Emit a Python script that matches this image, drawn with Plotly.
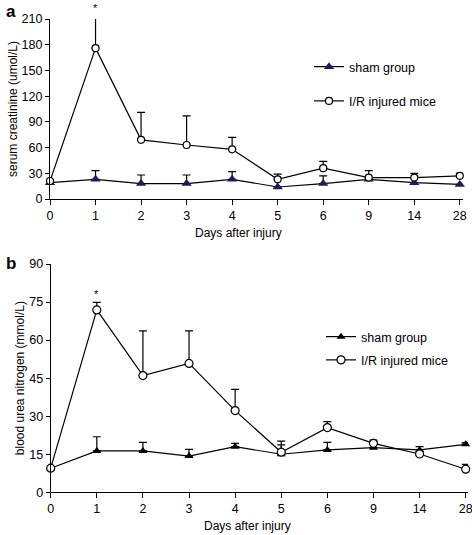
import plotly.graph_objects as go

days = ["0", "1", "2", "3", "4", "5", "6", "9", "14", "28"]

# Panel a: serum creatinine (umol/L)
cr_sham = [19, 23, 18, 18, 23, 14, 18, 23, 19, 17]
cr_sham_err = [0, 10, 10, 10, 9, 0, 9, 0, 0, 0]
cr_ir = [21, 176, 69, 63, 58, 23, 36, 25, 25, 27]
cr_ir_err = [0, 37, 32, 34, 14, 6, 8, 8, 5, 3]

# Panel b: blood urea nitrogen (mmol/L)
bun_sham = [9.5, 16.3, 16.3, 14.3, 18, 15, 16.7, 17.6, 16.7, 18.9]
bun_sham_err = [0, 5.6, 3.4, 2.6, 1.3, 3.7, 3.0, 0, 1.3, 0.7]
bun_ir = [9.5, 71.9, 46, 50.8, 32.2, 15.8, 25.5, 19.3, 15.1, 9.1]
bun_ir_err = [0, 3.0, 17.6, 12.8, 8.4, 4.4, 2.4, 1.3, 0, 1.9]

CR_MAX, BUN_MAX = 210, 90

NAVY = "#1b1b5e"
FONT = "Liberation Sans, Arial, sans-serif"

fig = go.Figure()


def err(vals):
    return dict(type="data", array=vals, arrayminus=[0] * len(vals), symmetric=False,
                color="black", thickness=1.2, width=4)


fig.add_trace(go.Scatter(x=days, y=cr_sham, name="sham group", mode="lines+markers",
                         line=dict(color="black", width=1.2), cliponaxis=False,
                         marker=dict(symbol="triangle-up", size=9, color=NAVY, line=dict(width=0)),
                         error_y=err(cr_sham_err), xaxis="x", yaxis="y",
                         legend="legend", legendgroup="a1"))
fig.add_trace(go.Scatter(x=days, y=cr_ir, name="I/R injured mice", mode="lines+markers",
                         line=dict(color="black", width=1.2), cliponaxis=False,
                         marker=dict(symbol="circle", size=7, color="white", line=dict(color="black", width=1.2)),
                         error_y=err(cr_ir_err), xaxis="x", yaxis="y",
                         legend="legend", legendgroup="a2"))
fig.add_trace(go.Scatter(x=days, y=bun_sham, name="sham group", mode="lines+markers",
                         line=dict(color="black", width=1.2), cliponaxis=False,
                         marker=dict(symbol="triangle-up", size=8, color="black", line=dict(width=0)),
                         error_y=err(bun_sham_err), xaxis="x2", yaxis="y2",
                         legend="legend2", legendgroup="b1"))
fig.add_trace(go.Scatter(x=days, y=bun_ir, name="I/R injured mice", mode="lines+markers",
                         line=dict(color="black", width=1.2), cliponaxis=False,
                         marker=dict(symbol="circle", size=8, color="white", line=dict(color="black", width=1.2)),
                         error_y=err(bun_ir_err), xaxis="x2", yaxis="y2",
                         legend="legend2", legendgroup="b2"))

W, H = 472, 535


def px_x(p):
    return p / W


def px_y(p):
    return 1 - p / H


axis_common = dict(showgrid=False, zeroline=False, showline=True, linecolor="black", linewidth=1.2,
                   ticks="outside", tickcolor="black", tickwidth=1.2, automargin=False,
                   tickfont=dict(family=FONT, size=12.5, color="black"))

fig.update_layout(
    width=W, height=H, margin=dict(l=0, r=0, t=0, b=0),
    paper_bgcolor="white", plot_bgcolor="white",
    font=dict(family=FONT, color="black"),
    xaxis=dict(axis_common, type="category", domain=[px_x(50), px_x(463)], range=[0, 9.07],
               anchor="y", ticklen=5),
    yaxis=dict(axis_common, domain=[px_y(199), px_y(19)], range=[0, CR_MAX], tickvals=list(range(0, CR_MAX + 1, 30)),
               anchor="x", ticklen=4,
               title=dict(text="serum creatinine (umol/L)", font=dict(family=FONT, size=12), standoff=1)),
    xaxis2=dict(axis_common, type="category", domain=[px_x(50.7), px_x(468)], range=[0, 9.05],
                anchor="y2", ticklen=5),
    yaxis2=dict(axis_common, domain=[px_y(492.3), px_y(264)], range=[0, BUN_MAX], tickvals=list(range(0, BUN_MAX + 1, 15)),
                anchor="x2", ticklen=4,
                title=dict(text="blood urea nitrogen (mmol/L)", font=dict(family=FONT, size=12), standoff=1)),
    legend=dict(x=px_x(309), y=px_y(52), xanchor="left", yanchor="top", bgcolor="rgba(0,0,0,0)",
                font=dict(family=FONT, size=12.5), tracegroupgap=15, traceorder="grouped"),
    legend2=dict(x=px_x(321), y=px_y(322), xanchor="left", yanchor="top", bgcolor="rgba(0,0,0,0)",
                 font=dict(family=FONT, size=12.5), tracegroupgap=4, traceorder="grouped"),
    showlegend=True,
)

annotations = [
    dict(text="<b>a</b>", x=px_x(4), y=px_y(11), xref="paper", yref="paper", xanchor="left", yanchor="middle",
         showarrow=False, font=dict(family=FONT, size=17)),
    dict(text="<b>b</b>", x=px_x(4), y=px_y(263), xref="paper", yref="paper", xanchor="left", yanchor="middle",
         showarrow=False, font=dict(family=FONT, size=17)),
    dict(text="Days after injury", x=px_x(238), y=px_y(233), xref="paper", yref="paper", xanchor="center",
         yanchor="middle", showarrow=False, font=dict(family=FONT, size=12)),
    dict(text="Days after injury", x=px_x(247), y=px_y(526), xref="paper", yref="paper", xanchor="center",
         yanchor="middle", showarrow=False, font=dict(family=FONT, size=12)),
    dict(text="*", x=days[1], y=(cr_ir[1] + cr_ir_err[1]) / CR_MAX, xref="x", yref="y domain", yanchor="bottom",
         showarrow=False, font=dict(family=FONT, size=11)),
    dict(text="*", x=days[1], y=(bun_ir[1] + bun_ir_err[1]) / BUN_MAX, xref="x2", yref="y2 domain", yanchor="bottom",
         showarrow=False, font=dict(family=FONT, size=11)),
]
fig.update_layout(annotations=annotations)

fig.write_html("out.html", config={"displayModeBar": False},
               post_script="document.body.style.margin='0';document.body.style.overflow='hidden';")
